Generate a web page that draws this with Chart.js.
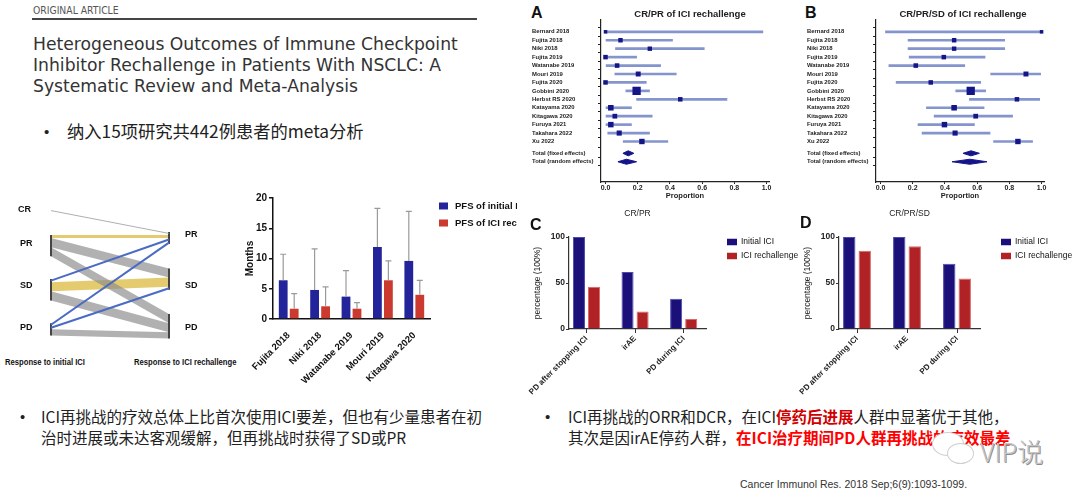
<!DOCTYPE html>
<html lang="zh">
<head>
<meta charset="utf-8">
<title>ICI rechallenge in NSCLC</title>
<script src="https://cdn.jsdelivr.net/npm/chart.js@4.4.1/dist/chart.umd.min.js"></script>
<style>
  html, body { margin: 0; padding: 0; background: #fff; }
  body { position: relative; width: 1080px; height: 497px; overflow: hidden; font-family: "Liberation Sans", Arial, sans-serif; color: #222; }
  .t { position: absolute; white-space: nowrap; line-height: 1; }
  .mid { transform: translateY(-50%); }
  .box { position: absolute; }
  .kicker { left: 33px; top: 10px; font-family: "DejaVu Sans Condensed", "DejaVu Sans", sans-serif; font-size: 10.3px; color: #555; }
  .rule { position: absolute; left: 32px; top: 18px; width: 445px; height: 2px; background: #444; }
  .title { left: 33px; top: 34px; font-family: "DejaVu Sans", sans-serif; font-size: 17.2px; line-height: 21px; color: #333; }
  .cn { font-family: "Noto Sans CJK SC", sans-serif; color: #222; }
  .bul { font-family: "Liberation Sans", Arial, sans-serif; color: #222; }
  .note { font-size: 15.5px; line-height: 21px; }
  .red { color: #d00000; font-weight: 700; }
  .hot { color: #ff0000; font-weight: 700; }
  .sk { font-weight: bold; font-size: 9px; color: #111; }
  .skx { font-weight: bold; font-size: 9px; color: #111; transform: translateY(-50%) scaleX(0.85); transform-origin: left center; }
  .letter { font-weight: bold; font-size: 16px; color: #111; }
  .cite { left: 740px; top: 484px; font-family: "Liberation Sans Narrow", "Liberation Sans", sans-serif; font-size: 10.5px; color: #333; }
  .wx { position: absolute; border: 1.5px solid #cfcfcf; border-radius: 50%; background: #fff; }
  .vip { left: 980px; top: 451px; font-family: "Noto Sans CJK SC", sans-serif; font-weight: 300; font-size: 26px; color: #c4c4c4; text-shadow: 1px 1px 0 #8d8d8d; }
</style>
</head>
<body>

<div class="t kicker mid">ORIGINAL ARTICLE</div>
<div class="rule"></div>
<div class="t title">Heterogeneous Outcomes of Immune Checkpoint<br>Inhibitor Rechallenge in Patients With NSCLC: A<br>Systematic Review and Meta-Analysis</div>

<div class="t bul mid" style="left:44px; top:131px; font-size:15px;">•</div>
<div class="t cn mid" style="left:67px; top:131px; font-size:17.3px;">纳入15项研究共442例患者的meta分析</div>

<!-- response flow (sankey) -->
<div class="box" style="left:0; top:190px; width:240px; height:155px;"><canvas id="flowChart"></canvas></div>
<div class="t sk mid" style="left:18px; top:209px;">CR</div>
<div class="t sk mid" style="left:20px; top:243px;">PR</div>
<div class="t sk mid" style="left:20px; top:285px;">SD</div>
<div class="t sk mid" style="left:20px; top:327px;">PD</div>
<div class="t sk mid" style="left:185px; top:234px;">PR</div>
<div class="t sk mid" style="left:185px; top:285px;">SD</div>
<div class="t sk mid" style="left:185px; top:327px;">PD</div>
<div class="t skx" style="left:5px; top:362px;">Response to initial ICI</div>
<div class="t skx" style="left:134px; top:362px;">Response to ICI rechallenge</div>

<!-- PFS bars -->
<div class="box" style="left:235px; top:190px; width:282px; height:210px;"><canvas id="pfsChart"></canvas></div>

<!-- forest plots -->
<div class="t letter mid" style="left:531px; top:13px;">A</div>
<div class="box" style="left:532px; top:0; width:242px; height:201px;"><canvas id="forestA"></canvas></div>
<div class="t letter mid" style="left:805px; top:13px;">B</div>
<div class="box" style="left:807px; top:0; width:242px; height:201px;"><canvas id="forestB"></canvas></div>

<!-- response by reason of discontinuation -->
<div class="t letter mid" style="left:530px; top:225px;">C</div>
<div class="box" style="left:520px; top:205px; width:280px; height:194px;"><canvas id="crprChart"></canvas></div>
<div class="t letter mid" style="left:800px; top:223px;">D</div>
<div class="box" style="left:790px; top:205px; width:290px; height:194px;"><canvas id="crprsdChart"></canvas></div>

<!-- notes -->
<div class="t bul" style="left:20px; top:406px; font-size:15px; line-height:21px;">•</div>
<div class="t cn note" style="left:41px; top:405.5px;">ICI再挑战的疗效总体上比首次使用ICI要差，但也有少量患者在初<br>治时进展或未达客观缓解，但再挑战时获得了SD或PR</div>
<div class="t bul" style="left:545px; top:406px; font-size:15px; line-height:21px;">•</div>
<div class="t cn note" style="left:568px; top:405.5px;">ICI再挑战的ORR和DCR，在ICI<span class="red">停药后进展</span>人群中显著优于其他，<br>其次是因irAE停药人群，<span class="hot">在ICI治疗期间PD人群再挑战的疗效最差</span></div>

<div class="wx" style="left:932px; top:432px; width:30px; height:22px;"></div>
<div class="wx" style="left:947px; top:443px; width:25px; height:19px;"></div>
<div class="t vip mid">VIP说</div>
<div class="t cite mid">Cancer Immunol Res. 2018 Sep;6(9):1093-1099.</div>

<script>
// ---- data ----
// Sankey: response to initial ICI -> response to ICI rechallenge (patients)
const responseLevels = ['CR', 'PR', 'SD', 'PD'];
const flowFrom  = ['CR', 'PR', 'PR', 'PR', 'SD', 'SD', 'SD', 'PD', 'PD', 'PD'];
const flowTo    = ['PR', 'PR', 'SD', 'PD', 'PR', 'SD', 'PD', 'PR', 'SD', 'PD'];
const flowCount = [1, 1, 3, 3, 1, 3, 3, 1, 1, 2];

// PFS (months)
const pfsStudies = ['Fujita 2018', 'Niki 2018', 'Watanabe 2019', 'Mouri 2019', 'Kitagawa 2020'];
const pfsInitial = [6.4, 4.8, 3.7, 11.9, 9.6];
const pfsInitialUpper = [10.7, 11.6, 8.0, 18.3, 17.8];
const pfsRechallenge = [1.7, 2.1, 1.7, 6.4, 4.0];
const pfsRechallengeUpper = [4.2, 5.3, 2.7, 9.6, 6.4];
const pfsTicks = [0, 5, 10, 15, 20];

// meta-analysis of proportions
const studies = ['Bernard 2018', 'Fujita 2018', 'Niki 2018', 'Fujita 2019', 'Watanabe 2019', 'Mouri 2019', 'Fujita 2020',
  'Gobbini 2020', 'Herbst RS 2020', 'Katayama 2020', 'Kitagawa 2020', 'Furuya 2021', 'Takahara 2022', 'Xu 2022'];
const studyWeights = [2, 12, 11, 13, 14, 21, 13, 144, 13, 35, 17, 33, 24, 31];
const pooledLabels = ['Total (fixed effects)', 'Total (random effects)'];

const crprEst = [0.0, 0.093, 0.275, 0.0, 0.072, 0.203, 0.0, 0.193, 0.464, 0.033, 0.058, 0.033, 0.085, 0.226];
const crprLow = [0.0, 0.0, 0.062, 0.0, 0.004, 0.058, 0.0, 0.126, 0.193, 0.0, 0.0, 0.0, 0.014, 0.11];
const crprHigh = [0.977, 0.416, 0.613, 0.193, 0.342, 0.439, 0.253, 0.273, 0.754, 0.161, 0.29, 0.161, 0.273, 0.387];
const crprFixed = [0.141, 0.108, 0.176];
const crprRandom = [0.130, 0.077, 0.193];

const crprsdEst = [1.0, 0.457, 0.457, 0.393, 0.219, 0.903, 0.312, 0.56, 0.847, 0.457, 0.591, 0.397, 0.463, 0.853];
const crprsdLow = [0.031, 0.171, 0.171, 0.178, 0.052, 0.684, 0.097, 0.467, 0.552, 0.285, 0.333, 0.233, 0.258, 0.702];
const crprsdHigh = [1.0, 0.771, 0.771, 0.649, 0.523, 0.994, 0.622, 0.653, 0.988, 0.643, 0.82, 0.583, 0.68, 0.944];
const crprsdFixed = [0.562, 0.512, 0.614];
const crprsdRandom = [0.554, 0.444, 0.661];
const proportionTicks = [0, 0.2, 0.4, 0.6, 0.8, 1.0];

// response rate by reason for ICI discontinuation (%)
const reasons = ['PD after stopping ICI', 'irAE', 'PD during ICI'];
const crprInitial = [100, 62, 33];
const crprRechallenge = [46, 19, 11];
const crprsdInitial = [100, 100, 71];
const crprsdRechallenge = [85, 90, 55];
const percentTicks = [0, 50, 100];

// ---- shared setup ----
Chart.defaults.font.family = '"Liberation Sans", Arial, sans-serif';
Chart.defaults.color = '#222';
Chart.defaults.animation = false;
Chart.defaults.events = [];
Chart.defaults.plugins.legend.display = false;
Chart.defaults.plugins.tooltip.enabled = false;

const navy = '#15158a';
const ciBlue = '#8494cc';

// error bars going up from the top of each bar
const errorBars = {
  id: 'errorBars',
  afterDatasetsDraw(chart, args, opts) {
    const { ctx } = chart;
    const y = chart.scales.y;
    ctx.save();
    ctx.strokeStyle = opts.color;
    ctx.lineWidth = 1.2;
    chart.data.datasets.forEach((ds, i) => {
      chart.getDatasetMeta(i).data.forEach((bar, j) => {
        const top = y.getPixelForValue(ds.upper[j]);
        ctx.beginPath();
        ctx.moveTo(bar.x, bar.y);
        ctx.lineTo(bar.x, top);
        ctx.moveTo(bar.x - 3, top);
        ctx.lineTo(bar.x + 3, top);
        ctx.stroke();
      });
    });
    ctx.restore();
  }
};

// legend to the right of the plot
const sideLegend = {
  id: 'sideLegend',
  afterDraw(chart, args, opts) {
    const { ctx, chartArea } = chart;
    ctx.save();
    chart.data.datasets.forEach((ds, i) => {
      const x = chartArea.right + opts.dx;
      const y = opts.top + i * opts.gap;
      ctx.fillStyle = ds.backgroundColor;
      ctx.fillRect(x, y - opts.h / 2, opts.w, opts.h);
      ctx.fillStyle = '#111';
      ctx.font = opts.font;
      ctx.textBaseline = 'middle';
      ctx.fillText(ds.label, x + opts.w + opts.pad, y);
    });
    ctx.restore();
  }
};

// title centred over the plot area
const panelTitle = {
  id: 'panelTitle',
  afterDraw(chart, args, opts) {
    const { ctx, chartArea } = chart;
    ctx.save();
    ctx.font = opts.font;
    ctx.fillStyle = '#222';
    ctx.textAlign = 'center';
    ctx.textBaseline = 'middle';
    ctx.fillText(opts.text, (chartArea.left + chartArea.right) / 2 + (opts.dx || 0), opts.y);
    ctx.restore();
  }
};

// ---- sankey of responses ----
function flowDatasets() {
  const leftGap = 7.5, rightGap = 8, rightStart = 7.5;
  const rank = {};
  responseLevels.forEach((r, i) => { rank[r] = i; });
  const total = (side, node) => flowCount.reduce((s, c, i) => side[i] === node ? s + c : s, 0);

  const topL = {}, topR = {};
  let y = 0;
  responseLevels.filter(r => flowFrom.includes(r)).forEach(n => { topL[n] = y; y += total(flowFrom, n) + leftGap; });
  y = rightStart;
  responseLevels.filter(r => flowTo.includes(r)).forEach(n => { topR[n] = y; y += total(flowTo, n) + rightGap; });

  const idx = flowCount.map((c, i) => i);
  const posL = [], posR = [];
  const curL = Object.assign({}, topL), curR = Object.assign({}, topR);
  idx.slice().sort((a, b) => rank[flowFrom[a]] - rank[flowFrom[b]] || rank[flowTo[a]] - rank[flowTo[b]])
    .forEach(i => { posL[i] = curL[flowFrom[i]]; curL[flowFrom[i]] += flowCount[i]; });
  idx.slice().sort((a, b) => rank[flowTo[a]] - rank[flowTo[b]] || rank[flowFrom[a]] - rank[flowFrom[b]])
    .forEach(i => { posR[i] = curR[flowTo[i]]; curR[flowTo[i]] += flowCount[i]; });

  const sets = [];
  idx.forEach(i => {
    const from = flowFrom[i], to = flowTo[i], c = flowCount[i];
    const improved = rank[to] < rank[from];
    if (from === 'CR' || improved) {
      sets.push({
        data: [{ x: 0, y: posL[i] + c / 2 }, { x: 1, y: posR[i] + c / 2 }],
        borderColor: from === 'CR' ? '#9a9a9a' : '#4a6bc4',
        borderWidth: from === 'CR' ? 0.8 : 2, order: 0
      });
      return;
    }
    const color = (from === to && from !== 'PD') ? 'rgba(220,188,70,0.78)' : 'rgba(140,140,140,0.68)';
    sets.push({ data: [{ x: 0, y: posL[i] }, { x: 1, y: posR[i] }], borderColor: 'rgba(0,0,0,0)', borderWidth: 1, order: 2 });
    sets.push({ data: [{ x: 0, y: posL[i] + c }, { x: 1, y: posR[i] + c }], borderColor: 'rgba(0,0,0,0)', borderWidth: 1,
      backgroundColor: color, fill: '-1', order: 2 });
  });

  // node bars
  Object.keys(topL).filter(n => n !== 'CR').forEach(n => {
    sets.push({ data: [{ x: 0, y: topL[n] }, { x: 0, y: topL[n] + total(flowFrom, n) }], borderColor: '#444', borderWidth: 2, order: 1 });
  });
  Object.keys(topR).forEach(n => {
    sets.push({ data: [{ x: 1, y: topR[n] }, { x: 1, y: topR[n] + total(flowTo, n) }], borderColor: '#444', borderWidth: 2, order: 1 });
  });
  return sets.map(s => Object.assign({ showLine: true, pointRadius: 0, clip: false }, s));
}

new Chart(document.getElementById('flowChart'), {
  type: 'scatter',
  data: { datasets: flowDatasets() },
  options: {
    responsive: true,
    maintainAspectRatio: false,
    layout: { padding: { left: 51, right: 71, top: 13, bottom: 2 }, autoPadding: false },
    scales: {
      x: { type: 'linear', min: 0, max: 1, display: false },
      y: { type: 'linear', min: -2, max: 44, reverse: true, display: false }
    }
  }
});

// ---- PFS bar chart ----
new Chart(document.getElementById('pfsChart'), {
  type: 'bar',
  data: {
    labels: pfsStudies,
    datasets: [
      { label: 'PFS of initial ICI', data: pfsInitial, upper: pfsInitialUpper, backgroundColor: '#23239a' },
      { label: 'PFS of ICI rechallenge', data: pfsRechallenge, upper: pfsRechallengeUpper, backgroundColor: '#cc3a2f' }
    ]
  },
  options: {
    responsive: true,
    maintainAspectRatio: false,
    layout: { padding: { left: 0, right: 87, top: 7, bottom: 0 }, autoPadding: false },
    datasets: { bar: { categoryPercentage: 0.7, barPercentage: 0.8 } },
    scales: {
      x: {
        ticks: { font: { size: 9.5, weight: 'bold' }, color: '#111', minRotation: 45, maxRotation: 45, padding: 3 },
        grid: { display: false },
        border: { color: '#111', width: 1.5 },
        afterFit: s => { s.height = 81; }
      },
      y: {
        min: 0, max: 20,
        afterBuildTicks: s => { s.ticks = pfsTicks.map(v => ({ value: v })); },
        ticks: { font: { size: 10, weight: 'bold' }, color: '#111', padding: 2 },
        grid: { drawOnChartArea: false, tickLength: 4, color: '#111', lineWidth: 1.5 },
        border: { color: '#111', width: 1.5 },
        title: { display: true, text: 'Months', font: { size: 10, weight: 'bold' }, color: '#111', padding: { top: 9, bottom: 0 } },
        afterFit: s => { s.width = 38; }
      }
    },
    plugins: {
      errorBars: { color: '#9a9a9a' },
      sideLegend: { dx: 9, top: 16, gap: 17, w: 9, h: 7, pad: 7, font: 'bold 9.5px "Liberation Sans", Arial, sans-serif' }
    }
  },
  plugins: [errorBars, sideLegend]
});

// ---- forest plots ----
function forestChart(id, title, est, lo, hi, fixed, random, titleDx) {
  const rows = studies.map((s, i) => i);
  const fixedRow = studies.length - 1 + 1.4;
  const randomRow = fixedRow + 1;
  const rowPos = rows.concat([fixedRow, randomRow]);
  const rowNames = studies.concat(pooledLabels);
  const half = 0.3;
  const diamondEdge = (p, y, dir) => [{ x: p[1], y: y }, { x: p[0], y: y + dir * half }, { x: p[2], y: y }];
  const diamond = (p, y) => [
    { data: diamondEdge(p, y, -1), showLine: true, pointRadius: 0, borderColor: navy, borderWidth: 1, order: 2 },
    { data: diamondEdge(p, y, 1), showLine: true, pointRadius: 0, borderColor: navy, borderWidth: 1, backgroundColor: navy, fill: '-1', order: 2 }
  ];

  new Chart(document.getElementById(id), {
    type: 'scatter',
    data: {
      datasets: [
        { type: 'bar', indexAxis: 'y', data: rows.map(i => ({ y: i, x: [lo[i], hi[i]] })), backgroundColor: ciBlue, barThickness: 2, order: 3 },
        { data: rows.map(i => ({ x: est[i], y: i })), pointStyle: 'rect',
          pointRadius: studyWeights.map(n => (2.9 + 0.45 * Math.sqrt(n)) / Math.SQRT2),
          backgroundColor: navy, borderWidth: 0, order: 1 }
      ].concat(diamond(fixed, fixedRow), diamond(random, randomRow))
    },
    options: {
      responsive: true,
      maintainAspectRatio: false,
      layout: { padding: { left: 0, right: 5, top: 20, bottom: 0 }, autoPadding: false },
      scales: {
        x: {
          type: 'linear', min: -0.028, max: 1.015,
          afterBuildTicks: s => { s.ticks = proportionTicks.map(v => ({ value: v })); },
          ticks: { callback: v => v.toFixed(1), font: { size: 7, weight: 'bold' }, color: '#222', padding: 0, maxRotation: 0, autoSkip: false },
          grid: { drawOnChartArea: false, tickLength: 2, color: '#222' },
          border: { color: '#222', width: 1.2 },
          title: { display: true, text: 'Proportion', font: { size: 7.5, weight: 'bold' }, color: '#222', padding: { top: 0, bottom: 1 } },
          afterFit: s => { s.height = 19; }
        },
        y: {
          type: 'linear', min: -0.8, max: 17.2, reverse: true,
          afterBuildTicks: s => { s.ticks = rowPos.map(v => ({ value: v })); },
          ticks: { callback: (v, i) => rowNames[i], crossAlign: 'far', font: { size: 5.9, weight: 'bold' }, color: '#222', autoSkip: false, padding: 2 },
          grid: { drawOnChartArea: false, tickLength: 3, color: '#222' },
          border: { color: '#222', width: 1.2 },
          afterFit: s => { s.width = 69; }
        }
      },
      plugins: {
        panelTitle: { text: title, y: 14, dx: titleDx, font: 'bold 9.5px "Liberation Sans", Arial, sans-serif' }
      }
    },
    plugins: [panelTitle]
  });
}

forestChart('forestA', 'CR/PR of ICI rechallenge', crprEst, crprLow, crprHigh, crprFixed, crprRandom, 5);
forestChart('forestB', 'CR/PR/SD of ICI rechallenge', crprsdEst, crprsdLow, crprsdHigh, crprsdFixed, crprsdRandom, 3);

// ---- response by reason for discontinuation ----
function reasonChart(id, title, initial, rechallenge, padRight) {
  new Chart(document.getElementById(id), {
    type: 'bar',
    data: {
      datasets: [
        { label: 'Initial ICI', data: initial.map((v, i) => ({ x: i, y: v })), backgroundColor: '#1b1079', borderColor: '#4b4bb0', borderWidth: 1 },
        { label: 'ICI rechallenge', data: rechallenge.map((v, i) => ({ x: i, y: v })), backgroundColor: '#b02226', borderColor: '#d86a6a', borderWidth: 1 }
      ]
    },
    options: {
      responsive: true,
      maintainAspectRatio: false,
      layout: { padding: { left: 0, right: padRight, top: 32, bottom: 0 }, autoPadding: false },
      datasets: { bar: { categoryPercentage: 0.62, barPercentage: 0.8 } },
      scales: {
        x: {
          type: 'linear', min: -0.36, max: 2.46, offset: false,
          afterBuildTicks: s => { s.ticks = reasons.map((r, i) => ({ value: i })); },
          ticks: { callback: (v, i) => reasons[i], font: { size: 8, weight: 'bold' }, color: '#222', minRotation: 45, maxRotation: 45, padding: 1, autoSkip: false },
          grid: { drawOnChartArea: false, offset: false, tickLength: 4, color: '#333' },
          border: { color: '#333', width: 1.2 },
          afterFit: s => { s.height = 70; }
        },
        y: {
          min: 0, max: 100,
          afterBuildTicks: s => { s.ticks = percentTicks.map(v => ({ value: v })); },
          ticks: { font: { size: 8.5, weight: 'bold' }, color: '#222', padding: 1 },
          grid: { drawOnChartArea: false, tickLength: 3, color: '#333' },
          border: { color: '#333', width: 1.2 },
          title: { display: true, text: 'percentage (100%)', font: { size: 8.5 }, color: '#222', padding: { top: 13, bottom: 0 } },
          afterFit: s => { s.width = 49; }
        }
      },
      plugins: {
        panelTitle: { text: title, y: 9, font: '8.5px "Liberation Sans", Arial, sans-serif' },
        sideLegend: { dx: 21, top: 37, gap: 14, w: 10, h: 6.5, pad: 4, font: '8.5px "Liberation Sans", Arial, sans-serif' }
      }
    },
    plugins: [panelTitle, sideLegend]
  });
}

reasonChart('crprChart', 'CR/PR', crprInitial, crprRechallenge, 94);
reasonChart('crprsdChart', 'CR/PR/SD', crprsdInitial, crprsdRechallenge, 100);
</script>
</body>
</html>
